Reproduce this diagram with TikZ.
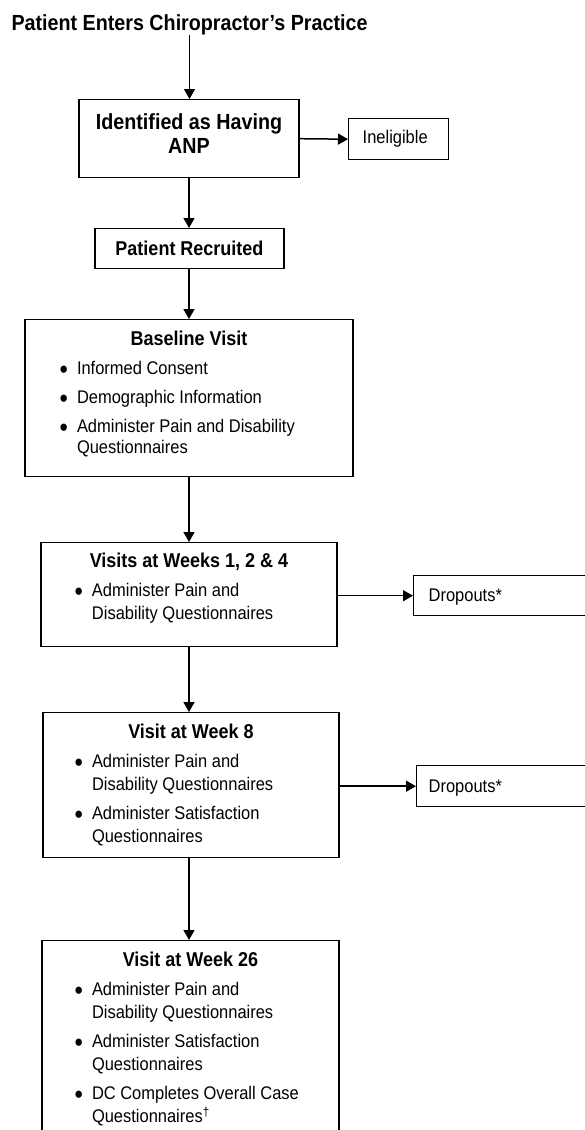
\documentclass[tikz,border=0pt]{standalone}
\usepackage{fontspec}
\setmainfont{Liberation Sans}[FakeStretch=0.9]
\usetikzlibrary{shapes,arrows.meta,positioning}

\newcommand{\titlesize}{\fontsize{21.9}{24}\selectfont}
\newcommand{\headsize}{\fontsize{20}{23}\selectfont}
\newcommand{\itemsize}{\fontsize{18.3}{23}\selectfont}
\newcommand{\blt}{\raisebox{-4pt}{\scalebox{1.45}{\textbullet}}}
\newcommand{\boxhead}[1]{{\centering\headsize\bfseries #1\par}}
\newcommand{\listsetup}[2]{\itemsize\baselineskip=#2\relax\leftskip=#1\relax\rightskip=0pt plus 1fil\relax}
\newcommand{\bitem}[1]{\par\vspace{\dimexpr 29pt-\baselineskip\relax}\noindent\llap{\blt\hspace{9pt}}#1\par}

\begin{document}
\begin{tikzpicture}[x=1pt, y=-1pt,
    box/.style={draw, line width=1.4pt, rectangle, inner xsep=0pt, inner ysep=0pt,
        anchor=north, execute at begin node={\parskip=0pt\spaceskip=0pt\xspaceskip=0pt\relax}},
    arr/.style={-{Triangle[length=10pt,width=11pt]}, line width=1.5pt}]
    \useasboundingbox (0,0) rectangle (585,1130);

    % Entry and screening
    \node[inner sep=0pt, anchor=base] (enter) at (189.5,30) {\titlesize\bfseries Patient Enters Chiropractor’s Practice};
    \node[box, text width=220pt, text height=30pt, text depth=48pt] (anp) at (189,99)
        {\centering\titlesize\bfseries Identified as Having\\ANP\par};
    \node[box, anchor=north west, text width=100pt, text height=25pt, text depth=16pt] (inel) at (348,118)
        {\itemsize\hspace*{14pt}Ineligible};
    \node[box, text width=189pt, text height=27pt, text depth=13pt] (recr) at (189.5,228)
        {\centering\headsize\bfseries Patient Recruited\par};

    % Visits
    \node[box, text width=328pt, text height=26pt, text depth=131pt] (base) at (189,319)
        {\boxhead{Baseline Visit}\listsetup{52pt}{21pt}%
        \bitem{Informed Consent}%
        \bitem{Demographic Information}%
        \bitem{Administer Pain and Disability\\Questionnaires}};
    \node[box, text width=296pt, text height=25pt, text depth=79pt] (weeks) at (189,542)
        {\boxhead{Visits at Weeks 1, 2 \& 4}\listsetup{51pt}{23pt}%
        \bitem{Administer Pain and\\Disability Questionnaires}};
    \node[box, text width=296pt, text height=26pt, text depth=119pt] (wk8) at (191,712)
        {\boxhead{Visit at Week 8}\listsetup{49pt}{23pt}%
        \bitem{Administer Pain and\\Disability Questionnaires}%
        \bitem{Administer Satisfaction\\Questionnaires}};
    \node[box, text width=297pt, text height=26pt, text depth=200pt] (wk26) at (190.5,940)
        {\boxhead{Visit at Week 26}\listsetup{50pt}{23pt}%
        \bitem{Administer Pain and\\Disability Questionnaires}%
        \bitem{Administer Satisfaction\\Questionnaires}%
        \bitem{DC Completes Overall Case\\Questionnaires\textsuperscript{†}}};

    % Dropouts
    \node[box, anchor=north west, text width=200pt, text height=26pt, text depth=14pt] (drop1) at (413,575)
        {\itemsize\hspace*{15pt}Dropouts*};
    \node[box, anchor=north west, text width=200pt, text height=27pt, text depth=14pt] (drop2) at (416,765)
        {\itemsize\hspace*{12pt}Dropouts*};

    % Flow
    \draw[arr] (enter.south) -- (enter.south |- anp.north);
    \draw[arr] (anp.east) -- (inel.west);
    \draw[arr] (anp.south) -- (anp.south |- recr.north);
    \draw[arr] (anp.south |- recr.south) -- (anp.south |- base.north);
    \draw[arr] (base.south) -- (base.south |- weeks.north);
    \draw[arr] (drop1.west -| weeks.east) -- (drop1.west);
    \draw[arr] (weeks.south) -- (weeks.south |- wk8.north);
    \draw[arr] (drop2.west -| wk8.east) -- (drop2.west);
    \draw[arr] (weeks.south |- wk8.south) -- (weeks.south |- wk26.north);
\end{tikzpicture}
\end{document}
